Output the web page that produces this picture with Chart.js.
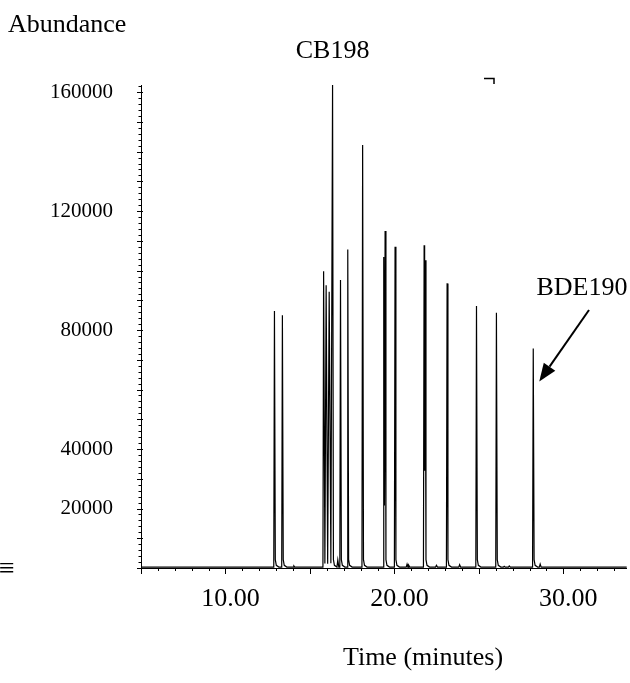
<!DOCTYPE html>
<html>
<head>
<meta charset="utf-8">
<title>Chromatogram</title>
<script src="https://cdn.jsdelivr.net/npm/chart.js@4.4.1/dist/chart.umd.min.js"></script>
<style>
  html, body { margin: 0; padding: 0; background: #fff; }
  #wrap { width: 630px; height: 683px; }
</style>
</head>
<body>
<div id="wrap"><canvas id="chart-trace" width="630" height="683"></canvas></div>
<script>
// Main peaks: retention time (min) and apex abundance
const peakTimes = [12.90, 13.37, 15.81, 15.96, 16.14, 16.34, 16.81, 17.24, 18.12, 19.37, 19.45, 20.04, 21.76, 21.82, 23.12, 24.86, 26.04, 28.22];
const peakHeights = [86400, 85000, 99800, 95100, 92900, 162400, 96800, 107100, 142200, 104600, 113300, 108000, 108500, 103500, 95700, 88100, 85800, 73800];

// Minima between co-eluting peaks
const valleyTimes = [15.885, 16.05, 16.24, 19.41, 21.79];
const valleyHeights = [1500, 1400, 1600, 21000, 32700];

// Small bumps on the baseline
const bumpTimes = [9.5, 14.05, 16.65, 20.75, 20.85, 22.49, 23.86, 26.5, 26.8, 28.63];
const bumpHeights = [300, 700, 2700, 1300, 900, 900, 1100, 600, 700, 1300];

const xTickLabels = [10, 20, 30];
const yTickLabels = [20000, 40000, 80000, 120000, 160000];

const baseLevel = 300;
const serif = '"Liberation Serif", "Times New Roman", serif';

// Turn the peak list into a continuous detector trace
function buildTrace() {
	const events = [];
	peakTimes.forEach((t, i) => events.push({ t, y: peakHeights[i], kind: 'apex' }));
	valleyTimes.forEach((t, i) => events.push({ t, y: valleyHeights[i], kind: 'valley' }));
	bumpTimes.forEach((t, i) => events.push({ t, y: bumpHeights[i], kind: 'bump' }));
	events.sort((a, b) => a.t - b.t);

	const pts = [{ x: 5, y: baseLevel }];
	events.forEach((e, i) => {
		const prev = events[i - 1];
		const next = events[i + 1];
		if (e.kind === 'bump') {
			pts.push({ x: e.t - 0.05, y: baseLevel }, { x: e.t, y: e.y }, { x: e.t + 0.06, y: baseLevel });
		} else if (e.kind === 'valley') {
			pts.push({ x: e.t, y: e.y });
		} else {
			if (!prev || prev.kind !== 'valley') pts.push({ x: e.t - 0.04, y: baseLevel });
			pts.push({ x: e.t, y: e.y });
			// tailing edge
			if (!next || next.kind !== 'valley') {
				pts.push({ x: e.t + 0.05, y: 2800 }, { x: e.t + 0.11, y: 900 }, { x: e.t + 0.26, y: baseLevel });
			}
		}
	});
	pts.push({ x: 33.76, y: baseLevel });
	return pts.sort((a, b) => a.x - b.x);
}

// Tick marks, annotations and the arrow
const decorations = {
	id: 'decorations',
	afterDraw(chart) {
		const { ctx, chartArea } = chart;
		const x = chart.scales.x;
		const y = chart.scales.y;
		ctx.save();
		ctx.strokeStyle = '#000';
		ctx.fillStyle = '#000';
		ctx.lineWidth = 1;

		x.ticks.forEach((tk) => {
			const px = Math.round(x.getPixelForValue(tk.value)) + 0.5;
			const len = tk.value % 5 === 0 ? 6 : 3;
			ctx.beginPath();
			ctx.moveTo(px, chartArea.bottom);
			ctx.lineTo(px, chartArea.bottom + len);
			ctx.stroke();
		});
		y.ticks.forEach((tk) => {
			const py = Math.round(y.getPixelForValue(tk.value)) + 0.5;
			const major = tk.value % 10000 === 0;
			ctx.beginPath();
			ctx.moveTo(chartArea.left - (major ? 4 : 2.5), py);
			ctx.lineTo(chartArea.left + (major ? 2 : 0.5), py);
			ctx.stroke();
		});

		ctx.font = '26px ' + serif;
		ctx.textBaseline = 'middle';
		ctx.textAlign = 'left';
		ctx.fillText('Abundance', 8, 25);
		ctx.textAlign = 'center';
		ctx.fillText('CB198', x.getPixelForValue(16.34), 51);
		ctx.fillText('BDE190', 582, 288);
		ctx.fillText('Time (minutes)', 423, 658);
		ctx.textAlign = 'left';
		ctx.font = '28px ' + serif;
		ctx.fillText('\u2261', -1, 570);

		// small corner mark above the plot
		ctx.lineWidth = 1.5;
		ctx.beginPath();
		ctx.moveTo(484, 78.5);
		ctx.lineTo(494, 78.5);
		ctx.lineTo(494, 84);
		ctx.stroke();

		// arrow pointing at BDE190
		const i = peakTimes.indexOf(28.22);
		const tipX = x.getPixelForValue(peakTimes[i]) + 6;
		const tipY = y.getPixelForValue(peakHeights[i] * 0.85);
		const fromX = 589;
		const fromY = 310;
		const ang = Math.atan2(tipY - fromY, tipX - fromX);
		const headLen = 18;
		const headHalf = 7;
		const bx = tipX - headLen * Math.cos(ang);
		const by = tipY - headLen * Math.sin(ang);
		ctx.lineWidth = 2;
		ctx.beginPath();
		ctx.moveTo(fromX, fromY);
		ctx.lineTo(bx, by);
		ctx.stroke();
		ctx.beginPath();
		ctx.moveTo(tipX, tipY);
		ctx.lineTo(bx + headHalf * Math.sin(ang), by - headHalf * Math.cos(ang));
		ctx.lineTo(bx - headHalf * Math.sin(ang), by + headHalf * Math.cos(ang));
		ctx.closePath();
		ctx.fill();
		ctx.restore();
	},
};

!(function () {
	const ctx = document.getElementById('chart-trace');

	new Chart(ctx, {
		type: 'line',
		data: {
			datasets: [
				{
					label: 'Abundance',
					data: buildTrace(),
					borderColor: '#000',
					borderWidth: 1.2,
					pointRadius: 0,
					tension: 0,
					fill: false,
				},
			],
		},
		options: {
			responsive: false,
			animation: false,
			layout: {
				padding: { top: 85, left: 0, right: 0, bottom: 0 },
			},
			scales: {
				x: {
					type: 'linear',
					min: 5,
					max: 33.76,
					afterBuildTicks(scale) {
						const t = [];
						for (let v = 5; v <= 33; v++) t.push({ value: v });
						scale.ticks = t;
					},
					afterFit(scale) {
						scale.height = 115;
					},
					grid: { display: false, drawTicks: false },
					border: { display: true, color: '#000', width: 1 },
					ticks: {
						autoSkip: false,
						maxRotation: 0,
						padding: 16,
						labelOffset: 5,
						color: '#000',
						font: { family: serif, size: 26 },
						callback: (v) => (xTickLabels.includes(v) ? v.toFixed(2) : ''),
					},
				},
				y: {
					type: 'linear',
					min: 0,
					max: 162400,
					afterBuildTicks(scale) {
						const t = [];
						for (let v = 0; v <= 162000; v += 2000) t.push({ value: v });
						scale.ticks = t;
					},
					afterFit(scale) {
						scale.width = 141;
					},
					grid: { display: false, drawTicks: false },
					border: { display: true, color: '#000', width: 1 },
					ticks: {
						autoSkip: false,
						padding: 28,
						color: '#000',
						font: { family: serif, size: 21 },
						callback: (v) => (yTickLabels.includes(v) ? String(v) : ''),
					},
				},
			},
			plugins: {
				legend: { display: false },
				tooltip: { enabled: false },
			},
		},
		plugins: [decorations],
	});
})();
</script>
</body>
</html>
